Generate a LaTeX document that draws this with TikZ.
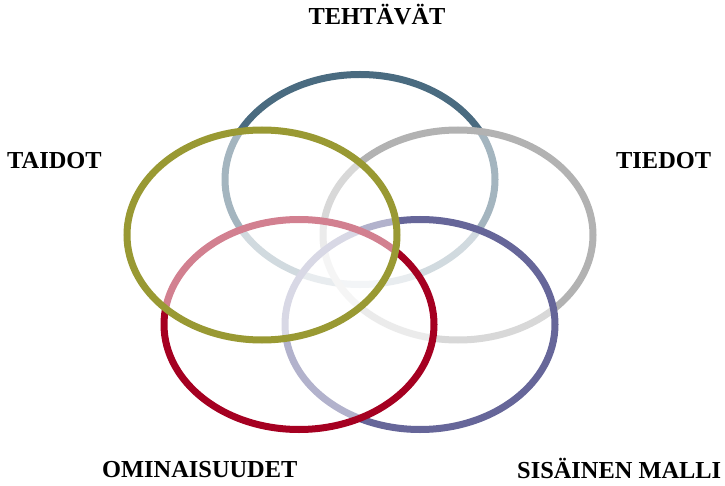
\documentclass[tikz,border=0pt]{standalone}
\usepackage{fontspec}
\setmainfont{Liberation Serif}
\definecolor{cBlue}{HTML}{4A6B80}
\definecolor{cGray}{HTML}{B2B2B2}
\definecolor{cPurple}{HTML}{666699}
\definecolor{cRed}{HTML}{A50021}
\definecolor{cOlive}{HTML}{999933}
\tikzset{
  ring/.style={draw=#1, line width=7pt, fill=white, fill opacity=0.5, draw opacity=1},
  lbl/.style={font=\bfseries\fontsize{24.4}{28}\selectfont, inner sep=0pt, anchor=base west, text=black}
}
\begin{document}
\begin{tikzpicture}[x=1pt,y=-1pt]
\useasboundingbox (0,0) rectangle (725,486);
\path[ring=cBlue]   (360,179.5) ellipse [x radius=135pt, y radius=105pt];
\path[ring=cGray]   (458,235)   ellipse [x radius=135pt, y radius=105pt];
\path[ring=cPurple] (420,324.5) ellipse [x radius=135pt, y radius=105pt];
\path[ring=cRed]    (299,324.5) ellipse [x radius=135pt, y radius=105pt];
\path[ring=cOlive]  (262,235)   ellipse [x radius=135pt, y radius=105pt];
\node[lbl, anchor=base] (teht) at (377,25) {TEHTÄVÄT};
\node[lbl] (taid) at (7,169) {TAIDOT};
\node[lbl] (tied) at (616,169) {TIEDOT};
\node[lbl] (omin) at (102,477) {OMINAISUUDET};
\node[lbl] (sisa) at (517,478) {SISÄINEN MALLI};
\end{tikzpicture}
\end{document}
